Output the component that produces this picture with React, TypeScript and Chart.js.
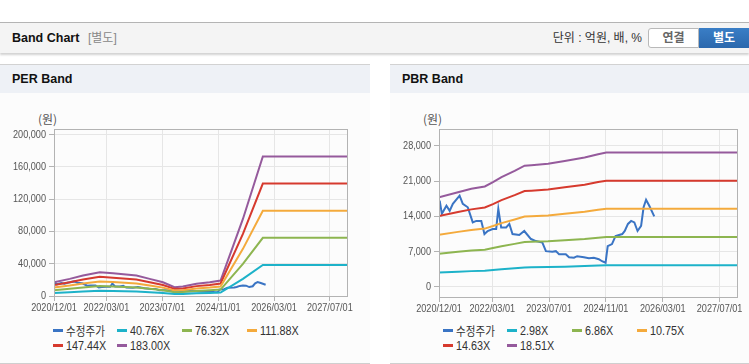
import React, { useEffect, useRef } from "react";
import { Chart, registerables } from "chart.js";

Chart.register(...registerables);

// ---- shared x axis (months since 2020/12/01) ----
const xTickMonths = [0, 15, 31, 47, 63, 79];
const xTickLabels = ["2020/12/01", "2022/03/01", "2023/07/01", "2024/11/01", "2026/03/01", "2027/07/01"];
const xMaxMonth = 83.9;

// ---- 수정주가 (adjusted price) ----
const priceMonths = [0.2, 0.8, 2.1, 3.0, 3.9, 5.8, 6.7, 8.1, 9.5, 10.5, 11.9, 12.8, 13.7, 15.1, 16.1, 16.7, 17.5, 18.9, 19.8, 20.7, 22.6, 24.0, 25.9, 27.3, 29.1, 30.1, 31.9, 32.9, 33.8, 35.7, 36.6, 38.0, 38.9, 40.8, 42.2, 43.6, 45.0, 45.9, 46.9, 47.5, 48.7, 49.7, 51.6, 52.3, 53.2, 54.1, 55.0, 55.9, 56.9, 57.6, 58.3, 59.2, 60.6];
const priceValues = [17100, 14500, 16100, 15100, 16500, 18100, 16500, 15800, 12800, 13100, 13100, 10500, 11100, 11500, 11500, 15500, 11800, 11800, 12500, 10500, 10300, 11100, 9500, 9100, 8800, 7100, 7000, 7100, 6500, 6500, 5900, 5800, 6100, 5900, 5700, 5800, 5500, 5100, 4800, 8100, 8500, 10100, 10500, 11100, 12500, 13100, 12800, 11100, 12100, 15800, 17300, 16100, 14000];

// ---- PER band: EPS base and multiples ----
const perMonths = [0, 4.5, 8.3, 13.1, 16.9, 23.6, 27.4, 31.2, 34.5, 36.9, 40.8, 44.6, 47.7, 54.1, 59.8, 85];
const perEps = [93, 116, 139, 161, 154, 139, 116, 93, 60, 64, 83, 93, 105, 522, 945, 945];
const perMultiples = [40.76, 76.32, 111.88, 147.44, 183.0];
const perLabels = ["40.76X", "76.32X", "111.88X", "147.44X", "183.00X"];
const perYTicks = [0, 40000, 80000, 120000, 160000, 200000];

// ---- PBR band: BPS base and multiples ----
const pbrMonths = [0, 5.35, 9.1, 12.9, 15.2, 17.6, 21.3, 24.1, 26.0, 30.7, 35.4, 41.0, 44.8, 47.1, 85];
const pbrBps = [962, 1016, 1052, 1077, 1124, 1178, 1245, 1300, 1305, 1320, 1351, 1387, 1423, 1441, 1441];
const pbrMultiples = [2.98, 6.86, 10.75, 14.63, 18.51];
const pbrLabels = ["2.98X", "6.86X", "10.75X", "14.63X", "18.51X"];
const pbrYTicks = [0, 7000, 14000, 21000, 28000];

const priceLabel = "수정주가";
const priceColor = "#3a74c4";
const bandColors = ["#1db2c9", "#8db550", "#f4aa3c", "#d63a2e", "#955a9c"];

const tickFont = "'Liberation Sans', Arial, sans-serif";
const uiFont = "'Liberation Sans', Arial, 'Noto Sans CJK KR', sans-serif";
const narrow = 0.83;

type BandProps = {
  months: number[];
  base: number[];
  multiples: number[];
  labels: string[];
  yTicks: number[];
  yMin: number;
  yMax: number;
  width: number;
  height: number;
  yAxisWidth: number;
  padTop: number;
  padRight: number;
  xAxisHeight: number;
};

const framePlugin = {
  id: "frame",
  afterDraw(chart: any) {
    const { ctx, chartArea } = chart;
    ctx.save();
    ctx.strokeStyle = "#b3b3b3";
    ctx.lineWidth = 1;
    ctx.strokeRect(
      Math.round(chartArea.left) + 0.5,
      Math.round(chartArea.top) + 0.5,
      Math.round(chartArea.right - chartArea.left),
      Math.round(chartArea.bottom - chartArea.top)
    );
    ctx.restore();
  },
};

function makeLabelPlugin(yTicks: number[]) {
  return {
    id: "narrowLabels",
    afterDraw(chart: any) {
      const { ctx, chartArea, scales } = chart;
      ctx.save();
      ctx.font = `11px ${tickFont}`;
      ctx.fillStyle = "#555";
      ctx.textBaseline = "middle";
      xTickMonths.forEach((m, i) => {
        const px = scales.x.getPixelForValue(m);
        ctx.save();
        ctx.translate(px, chartArea.bottom + 12);
        ctx.scale(narrow, 1);
        ctx.textAlign = "center";
        ctx.fillText(xTickLabels[i], 0, 0);
        ctx.restore();
      });
      yTicks.forEach((v) => {
        const py = scales.y.getPixelForValue(v);
        ctx.save();
        ctx.translate(chartArea.left - 8, py);
        ctx.scale(narrow, 1);
        ctx.textAlign = "right";
        ctx.fillText(v.toLocaleString("en-US"), 0, 0);
        ctx.restore();
      });
      ctx.restore();
    },
  };
}

function BandChart(p: BandProps) {
  const ref = useRef<HTMLCanvasElement | null>(null);
  useEffect(() => {
    if (!ref.current) return;
    const priceData = priceMonths.map((m, i) => ({ x: m, y: priceValues[i] }));
    const bands = p.multiples.map((mult, k) => ({
      label: p.labels[k],
      data: p.months.map((m, i) => ({ x: m, y: Math.round(p.base[i] * mult) })),
      borderColor: bandColors[k],
      backgroundColor: bandColors[k],
      borderWidth: 2,
      pointRadius: 0,
      tension: 0,
      order: 1,
    }));
    const chart = new Chart(ref.current, {
      type: "line",
      data: {
        datasets: [
          {
            label: priceLabel,
            data: priceData,
            borderColor: priceColor,
            backgroundColor: priceColor,
            borderWidth: 2,
            pointRadius: 0,
            tension: 0,
            order: 5,
          },
          ...bands,
        ],
      },
      options: {
        animation: false,
        responsive: false,
        maintainAspectRatio: false,
        devicePixelRatio: 1,
        layout: { padding: { top: p.padTop, right: p.padRight, left: 0, bottom: 0 } },
        plugins: { legend: { display: false }, tooltip: { enabled: false } },
        scales: {
          x: {
            type: "linear",
            min: 0,
            max: xMaxMonth,
            afterBuildTicks: (scale: any) => {
              scale.ticks = xTickMonths.map((v) => ({ value: v }));
            },
            afterFit: (scale: any) => {
              scale.height = p.xAxisHeight;
            },
            grid: { color: "#e6e6e6", tickColor: "#b3b3b3", tickLength: 5, drawTicks: true },
            border: { display: false },
            ticks: { display: false },
          },
          y: {
            type: "linear",
            min: p.yMin,
            max: p.yMax,
            afterBuildTicks: (scale: any) => {
              scale.ticks = p.yTicks.map((v) => ({ value: v }));
            },
            afterFit: (scale: any) => {
              scale.width = p.yAxisWidth;
            },
            grid: { color: "#e6e6e6", tickColor: "#b3b3b3", tickLength: 5, drawTicks: true },
            border: { display: false },
            ticks: { display: false },
          },
        },
      },
      plugins: [framePlugin, makeLabelPlugin(p.yTicks)],
    } as any);
    return () => chart.destroy();
  }, []);
  return (
    <canvas
      ref={ref}
      width={p.width}
      height={p.height}
      style={{ position: "absolute", left: 0, top: 29, width: p.width, height: p.height }}
    />
  );
}

function Legend({ labels }: { labels: string[] }) {
  const items = [{ label: priceLabel, color: priceColor }, ...labels.map((l, i) => ({ label: l, color: bandColors[i] }))];
  const cols = [53, 117, 182, 247];
  return (
    <>
      {items.map((it, i) => {
        const row = Math.floor(i / 4);
        const col = i % 4;
        return (
          <div
            key={it.label}
            style={{
              position: "absolute",
              left: cols[col],
              top: 257 + row * 15,
              height: 16,
              display: "flex",
              alignItems: "center",
              whiteSpace: "nowrap",
              color: "#333",
            }}
          >
            <span style={{ display: "inline-block", width: 10, height: 3, background: it.color, marginRight: 3 }} />
            {i === 0 ? (
              <span style={{ fontSize: 12, fontFamily: "'Noto Sans CJK KR', sans-serif", display: "inline-block", transform: "scaleX(0.88)", transformOrigin: "left center" }}>
                {it.label}
              </span>
            ) : (
              <span style={{ fontSize: 13, fontFamily: tickFont, display: "inline-block", transform: `scaleX(${narrow})`, transformOrigin: "left center" }}>
                {it.label}
              </span>
            )}
          </div>
        );
      })}
    </>
  );
}

function Panel(props: { left: number; width: number; title: string; children: React.ReactNode }) {
  return (
    <div
      style={{
        position: "absolute",
        left: props.left,
        top: 64,
        width: props.width,
        height: 300,
        background: "#fcfcfc",
        borderTop: "1px solid #d2d2d2",
        borderBottom: "1px solid #cfcfcf",
        boxSizing: "border-box",
      }}
    >
      <div style={{ position: "absolute", left: 0, top: 0, width: "100%", height: 28, background: "#eef1f6" }} />
      <div
        style={{
          position: "absolute",
          left: 12,
          top: 6,
          fontFamily: uiFont,
          fontWeight: "bold",
          fontSize: 12.5,
          color: "#111",
          lineHeight: "16px",
        }}
      >
        {props.title}
      </div>
      {props.children}
    </div>
  );
}

export default function App() {
  return (
    <div
      style={{
        position: "absolute",
        left: 0,
        top: 0,
        width: 749,
        height: 364,
        background: "#ffffff",
        overflow: "hidden",
        fontFamily: uiFont,
      }}
    >
      <div
        style={{
          position: "absolute",
          left: 0,
          top: 22,
          width: 749,
          height: 31,
          borderTop: "1px solid #b4b4b4",
          background: "#f4f4f4",
          boxSizing: "border-box",
          boxShadow: "0 2px 2px rgba(0,0,0,0.18)",
        }}
      >
        <div style={{ position: "absolute", left: 12, top: 7, fontWeight: "bold", fontSize: 12.5, color: "#111", lineHeight: "16px" }}>
          Band Chart
        </div>
        <div style={{ position: "absolute", left: 88, top: 7, fontSize: 12, color: "#888", lineHeight: "16px" }}>[별도]</div>
        <div style={{ position: "absolute", right: 107, top: 7, fontSize: 12, color: "#333", lineHeight: "16px", whiteSpace: "nowrap" }}>
          단위 : 억원, 배, %
        </div>
        <div
          style={{
            position: "absolute",
            left: 648,
            top: 5,
            width: 51,
            height: 20,
            boxSizing: "border-box",
            border: "1px solid #b9b9b9",
            borderRadius: "3px 0 0 3px",
            background: "#ffffff",
            color: "#666",
            fontWeight: "bold",
            fontSize: 12,
            lineHeight: "18px",
            textAlign: "center",
          }}
        >
          연결
        </div>
        <div
          style={{
            position: "absolute",
            left: 699,
            top: 5,
            width: 50,
            height: 20,
            boxSizing: "border-box",
            background: "linear-gradient(#3a7ec6, #2b68ad)",
            color: "#fff",
            fontWeight: "bold",
            fontSize: 12,
            lineHeight: "20px",
            textAlign: "center",
          }}
        >
          별도
        </div>
      </div>

      <Panel left={0} width={370} title="PER Band">
        <div style={{ position: "absolute", left: 38, top: 46, fontSize: 12, color: "#555", lineHeight: "16px", fontFamily: "'Noto Sans CJK KR', sans-serif" }}>(원)</div>
        <BandChart
          months={perMonths}
          base={perEps}
          multiples={perMultiples}
          labels={perLabels}
          yTicks={perYTicks}
          yMin={0}
          yMax={207000}
          width={370}
          height={225}
          yAxisWidth={54}
          padTop={35}
          padRight={23}
          xAxisHeight={23}
        />
        <Legend labels={perLabels} />
      </Panel>

      <Panel left={390} width={359} title="PBR Band">
        <div style={{ position: "absolute", left: 33, top: 46, fontSize: 12, color: "#555", lineHeight: "16px", fontFamily: "'Noto Sans CJK KR', sans-serif" }}>(원)</div>
        <BandChart
          months={pbrMonths}
          base={pbrBps}
          multiples={pbrMultiples}
          labels={pbrLabels}
          yTicks={pbrYTicks}
          yMin={-2000}
          yMax={31340}
          width={359}
          height={225}
          yAxisWidth={49}
          padTop={35}
          padRight={12}
          xAxisHeight={22}
        />
        <Legend labels={pbrLabels} />
      </Panel>
    </div>
  );
}
